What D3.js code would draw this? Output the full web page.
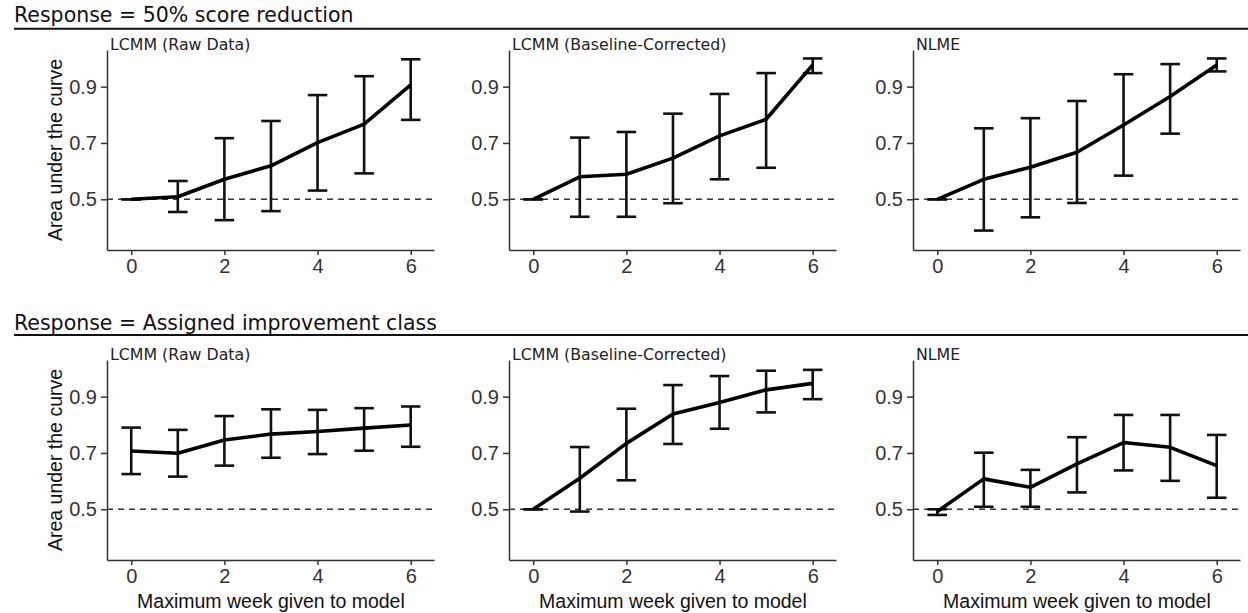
<!DOCTYPE html>
<html>

<head>
  <title>Area under the curve by maximum week</title>
  <meta charset="utf-8">
  <style>
    body {
      margin: 0;
      padding: 0;
      background: white;
    }
    .header {
      font-family: "DejaVu Sans", Verdana, sans-serif;
      font-size: 20.5px;
      fill: #111;
    }
    .subtitle {
      font-family: "DejaVu Sans", Verdana, sans-serif;
      font-size: 15.8px;
      fill: #222;
    }
    .axis path, .axis line {
      stroke: #333;
      stroke-width: 1.5;
    }
    .axis text {
      font-family: "Liberation Sans", Arial, sans-serif;
      font-size: 20px;
      fill: #333;
    }
    .axis-title {
      font-family: "Liberation Sans", Arial, sans-serif;
      font-size: 19.5px;
      fill: #111;
    }
    .refline {
      stroke: #333;
      stroke-width: 1.4;
      stroke-dasharray: 6, 5;
    }
    .auc-line {
      fill: none;
      stroke: black;
      stroke-width: 3.6;
      stroke-linejoin: round;
    }
    .errbar {
      stroke: #111;
      stroke-width: 2.6;
      fill: none;
    }
  </style>
</head>

<body>
  <div id="chart"></div>

  <script src="https://d3js.org/d3.v7.min.js"></script>

  <script>

  // ####### DATA: MAXIMUM WEEK GIVEN TO MODEL #######
  var weeks = [0, 1, 2, 3, 4, 5, 6]

  var rowTitles = ["Response = 50% score reduction", "Response = Assigned improvement class"]
  var panelTitles = ["LCMM (Raw Data)", "LCMM (Baseline-Corrected)", "NLME"]
  var yTicks = [0.5, 0.7, 0.9]
  var xTicks = [0, 2, 4, 6]

  // ####### ROW 1: 50% SCORE REDUCTION #######
  var redRawAuc = [0.500, 0.509, 0.571, 0.619, 0.701, 0.767, 0.906]
  var redRawLo  = [0.500, 0.455, 0.426, 0.458, 0.531, 0.592, 0.782]
  var redRawHi  = [0.500, 0.565, 0.717, 0.778, 0.870, 0.937, 0.997]

  var redBaseAuc = [0.500, 0.580, 0.589, 0.646, 0.725, 0.784, 0.977]
  var redBaseLo  = [0.500, 0.438, 0.438, 0.486, 0.571, 0.612, 0.948]
  var redBaseHi  = [0.500, 0.719, 0.739, 0.804, 0.874, 0.948, 1.000]

  var redNlmeAuc = [0.500, 0.571, 0.614, 0.667, 0.764, 0.865, 0.977]
  var redNlmeLo  = [0.500, 0.389, 0.436, 0.487, 0.584, 0.733, 0.954]
  var redNlmeHi  = [0.500, 0.752, 0.788, 0.849, 0.944, 0.980, 1.000]

  // ####### ROW 2: ASSIGNED IMPROVEMENT CLASS #######
  var clsRawAuc = [0.707, 0.699, 0.746, 0.767, 0.776, 0.788, 0.799]
  var clsRawLo  = [0.625, 0.616, 0.655, 0.683, 0.696, 0.708, 0.722]
  var clsRawHi  = [0.790, 0.782, 0.831, 0.855, 0.853, 0.859, 0.865]

  var clsBaseAuc = [0.500, 0.610, 0.734, 0.838, 0.879, 0.924, 0.947]
  var clsBaseLo  = [0.500, 0.492, 0.603, 0.732, 0.786, 0.844, 0.891]
  var clsBaseHi  = [0.500, 0.721, 0.857, 0.941, 0.973, 0.992, 0.995]

  var clsNlmeAuc = [0.492, 0.608, 0.578, 0.661, 0.737, 0.720, 0.655]
  var clsNlmeLo  = [0.480, 0.509, 0.509, 0.560, 0.638, 0.601, 0.541]
  var clsNlmeHi  = [0.500, 0.701, 0.640, 0.756, 0.835, 0.835, 0.764]

  var rows = [
    [[redRawAuc, redRawLo, redRawHi], [redBaseAuc, redBaseLo, redBaseHi], [redNlmeAuc, redNlmeLo, redNlmeHi]],
    [[clsRawAuc, clsRawLo, clsRawHi], [clsBaseAuc, clsBaseLo, clsBaseHi], [clsNlmeAuc, clsNlmeLo, clsNlmeHi]]
  ]

  // ####### LAYOUT #######
  var width = 1248,
      height = 613

  var panelLeft = [107, 509, 913],
      panelWidth = 327,
      rowTop = [50, 360],
      panelHeight = 200,
      headerBaseline = [22, 330],
      headerRule = [28.7, 335]

  var svg = d3.select("#chart")
      .append("svg")
      .attr("width", width)
      .attr("height", height)

  var x = d3.scaleLinear().domain([-0.52, 6.5]).range([0, panelWidth])
  var y = d3.scaleLinear().domain([0.32, 1.03]).range([panelHeight, 0])

  rows.forEach(function (row, r) {

      // ####### ROW HEADER WITH RULE #######
      svg.append("text")
          .attr("class", "header")
          .attr("x", 14)
          .attr("y", headerBaseline[r])
          .text(rowTitles[r])

      svg.append("line")
          .attr("x1", 14).attr("x2", width)
          .attr("y1", headerRule[r]).attr("y2", headerRule[r])
          .attr("stroke", "#111")
          .attr("stroke-width", 2)

      row.forEach(function (series, p) {
          var auc = series[0], lo = series[1], hi = series[2]

          var g = svg.append("g")
              .attr("transform", "translate(" + panelLeft[p] + "," + rowTop[r] + ")")

          // ####### DASHED CHANCE LINE #######
          g.append("line")
              .attr("class", "refline")
              .attr("x1", 0).attr("x2", panelWidth)
              .attr("y1", y(0.5)).attr("y2", y(0.5))

          // ####### AXES #######
          g.append("g")
              .attr("class", "axis")
              .attr("transform", "translate(0," + panelHeight + ")")
              .call(d3.axisBottom(x).tickValues(xTicks).tickFormat(d3.format("d"))
                  .tickSize(5).tickSizeOuter(0).tickPadding(4))

          g.append("g")
              .attr("class", "axis")
              .call(d3.axisLeft(y).tickValues(yTicks).tickFormat(d3.format(".1f"))
                  .tickSize(6).tickSizeOuter(0).tickPadding(4))

          g.selectAll(".axis text").attr("fill", "#333")

          // ####### ERROR BARS #######
          var bars = g.append("g")
              .selectAll("g")
              .data(weeks)
              .enter().append("g")

          bars.append("line")
              .attr("class", "errbar")
              .attr("x1", function (d) { return x(d) })
              .attr("x2", function (d) { return x(d) })
              .attr("y1", function (d, i) { return y(lo[i]) })
              .attr("y2", function (d, i) { return y(hi[i]) })

          bars.append("line")
              .attr("class", "errbar")
              .attr("x1", function (d) { return x(d - 0.21) })
              .attr("x2", function (d) { return x(d + 0.21) })
              .attr("y1", function (d, i) { return y(lo[i]) })
              .attr("y2", function (d, i) { return y(lo[i]) })

          bars.append("line")
              .attr("class", "errbar")
              .attr("x1", function (d) { return x(d - 0.21) })
              .attr("x2", function (d) { return x(d + 0.21) })
              .attr("y1", function (d, i) { return y(hi[i]) })
              .attr("y2", function (d, i) { return y(hi[i]) })

          // ####### AUC LINE #######
          var line = d3.line()
              .x(function (d) { return x(d) })
              .y(function (d, i) { return y(auc[i]) })

          g.append("path")
              .datum(weeks)
              .attr("class", "auc-line")
              .attr("d", line)

          // ####### PANEL TITLE #######
          g.append("text")
              .attr("class", "subtitle")
              .attr("x", 3)
              .attr("y", -0.5)
              .text(panelTitles[p])

          // ####### AXIS TITLES #######
          if (p === 0) {
              g.append("text")
                  .attr("class", "axis-title")
                  .attr("text-anchor", "middle")
                  .attr("transform", "translate(-45," + (panelHeight / 2) + ") rotate(-90)")
                  .text("Area under the curve")
          }
          if (r === 1) {
              g.append("text")
                  .attr("class", "axis-title")
                  .attr("text-anchor", "middle")
                  .attr("x", x(3))
                  .attr("y", panelHeight + 48)
                  .text("Maximum week given to model")
          }
      })
  })

  </script>
</body>

</html>
